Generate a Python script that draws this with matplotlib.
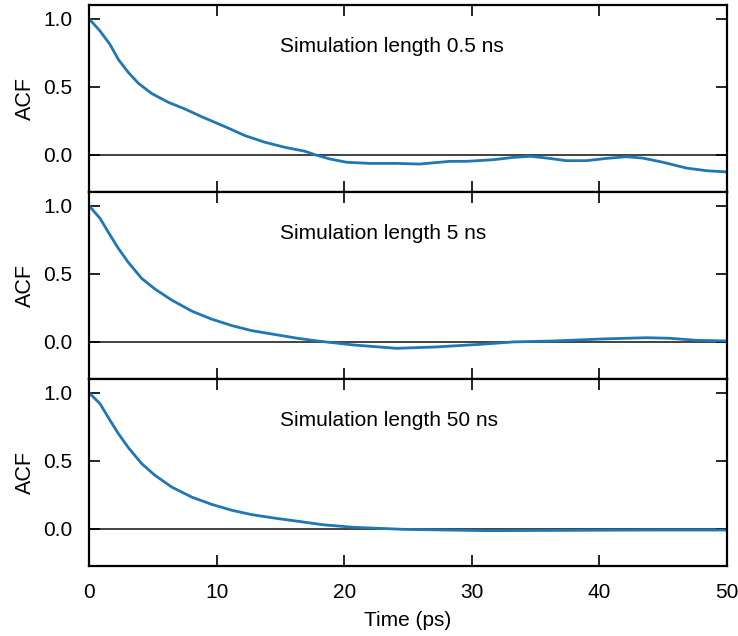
import matplotlib
matplotlib.use("Agg")
import matplotlib.pyplot as plt
from matplotlib.ticker import FormatStrFormatter

plt.rcParams['font.family'] = ['Liberation Sans', 'DejaVu Sans']

# ACF curves for three simulation lengths (time in ps)
t_05ns = [0, 0.86, 1.65, 2.3, 3.08, 3.87, 4.91, 6.22, 7.52, 8.83, 10.66, 12.23,
          13.8, 15.36, 16.93, 17.7, 18.9, 20.2, 22.0, 24.1, 25.9, 28.3, 29.6,
          31.7, 33.25, 34.6, 35.9, 37.4, 39.0, 40.6, 42.1, 43.4, 45.0, 46.8,
          48.4, 50.0]
acf_05ns = [1.0, 0.91, 0.81, 0.70, 0.605, 0.525, 0.45, 0.385, 0.336, 0.279,
            0.206, 0.14, 0.091, 0.054, 0.025, 0.0, -0.032, -0.056, -0.064,
            -0.064, -0.069, -0.049, -0.049, -0.037, -0.02, -0.012, -0.025,
            -0.044, -0.044, -0.027, -0.015, -0.025, -0.056, -0.098, -0.118,
            -0.127]

t_5ns = [0, 0.86, 1.65, 2.3, 3.08, 4.13, 5.17, 6.48, 8.05, 9.6, 11.2, 12.75,
         14.8, 16.4, 18.0, 20.7, 24.1, 27.2, 30.6, 33.25, 36.4, 40.3, 43.7,
         45.5, 47.6, 50.0]
acf_5ns = [1.0, 0.907, 0.784, 0.686, 0.583, 0.465, 0.387, 0.306, 0.225, 0.166,
           0.118, 0.081, 0.049, 0.024, 0.004, -0.024, -0.049, -0.039, -0.02,
           -0.002, 0.005, 0.02, 0.029, 0.025, 0.01, 0.005]

t_50ns = [0, 0.86, 1.65, 2.3, 3.08, 4.13, 5.17, 6.48, 8.05, 9.6, 11.2, 12.75,
          14.8, 16.4, 18.3, 20.7, 24.6, 31.2, 39.0, 44.3, 50.0]
acf_50ns = [1.0, 0.919, 0.796, 0.699, 0.596, 0.478, 0.392, 0.306, 0.232, 0.179,
            0.135, 0.103, 0.074, 0.054, 0.029, 0.01, -0.005, -0.015, -0.012,
            -0.01, -0.01]

labels = ["Simulation length 0.5 ns", "Simulation length 5 ns",
          "Simulation length 50 ns"]
series = [(t_05ns, acf_05ns), (t_5ns, acf_5ns), (t_50ns, acf_50ns)]
x_ticks = [0, 10, 20, 30, 40, 50]
y_ticks = [0.0, 0.5, 1.0]

fig, axes = plt.subplots(3, 1, figsize=(7.38, 6.36), dpi=100, sharex=True)
fig.subplots_adjust(left=0.1206, right=0.985, top=0.992, bottom=0.110, hspace=0)

for ax, (t, acf), lab in zip(axes, series, labels):
    ax.axhline(0, color='#222222', lw=1.2, zorder=1)
    ax.plot(t, acf, color='#1f77b4', lw=2.0, zorder=2,
            solid_joinstyle='round', solid_capstyle='round')
    ax.set_xlim(0, 50)
    ax.set_ylim(-0.275, 1.1)
    ax.set_xticks(x_ticks)
    ax.set_yticks(y_ticks)
    ax.yaxis.set_major_formatter(FormatStrFormatter('%.1f'))
    ax.tick_params(direction='in', top=True, right=True, length=8, width=1.2,
                   labelsize=15, pad=12)
    for s in ax.spines.values():
        s.set_linewidth(1.6)
    ax.set_ylabel("ACF", fontsize=15.5, labelpad=5)
    ax.text(15.0, 0.752, lab, fontsize=15, ha='left', va='baseline')

axes[-1].set_xlabel("Time (ps)", fontsize=15, labelpad=7)

fig.savefig("out.png", dpi=100)
